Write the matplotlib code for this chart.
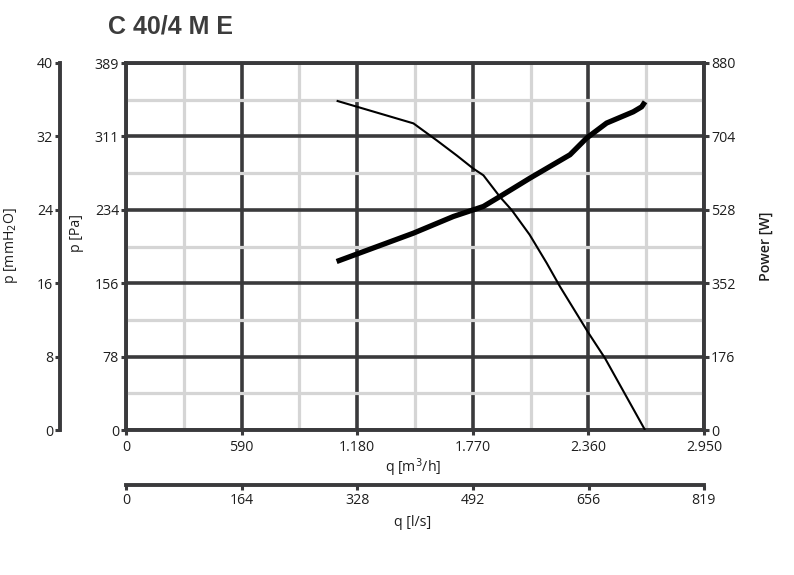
import matplotlib
matplotlib.use("Agg")
from matplotlib import pyplot as plt
from matplotlib.ticker import MultipleLocator
import numpy as np

# %% data
q_p = [1075, 1467, 1586, 1688, 1773, 1824, 1909, 1969, 2060, 2147, 2215, 2360, 2445, 2547, 2649]
p_pa = [349, 325, 307, 291, 277, 270, 247, 233, 207, 177, 152, 103, 76, 38, 0]

q_w = [1075, 1467, 1671, 1773, 1824, 1909, 2062, 2266, 2351, 2453, 2589, 2632, 2649]
power_w = [404, 472, 512, 528, 536, 560, 604, 660, 700, 736, 763, 775, 787]

q_ticks = [0, 590, 1180, 1770, 2360, 2950]
q_labels = ["0", "590", "1.180", "1.770", "2.360", "2.950"]
ls_ticks = [0, 164, 328, 492, 656, 819]
pa_ticks = [0, 78, 156, 234, 311, 389]
mm_ticks = [0, 8, 16, 24, 32, 40]
pw_ticks = [0, 176, 352, 528, 704, 880]

# %% style
plt.rcParams['font.family'] = ['Open Sans', 'DejaVu Sans']
dark = '#3a3a3c'
light = '#d5d5d5'
txt = '#1e1e1e'
fs = 10.2

W, H = 794, 575
fig = plt.figure(figsize=(W / 100, H / 100), dpi=100)
x0, x1, y0, y1 = 126, 704, 63, 430
ax = fig.add_axes([x0 / W, 1 - y1 / H, (x1 - x0) / W, (y1 - y0) / H])

ax.set_xlim(0, 2950)
ax.set_ylim(0, 389)
ax.set_xticks(q_ticks)
ax.set_xticklabels(q_labels)
ax.set_yticks(np.linspace(0, 389, 6))
ax.set_yticklabels([str(v) for v in pa_ticks])
ax.xaxis.set_minor_locator(MultipleLocator(295))
ax.set_yticks(np.linspace(0, 389, 11)[1::2], minor=True)
ax.grid(which='minor', color=light, lw=2.3, zorder=0)
ax.grid(which='major', color=dark, lw=2.6, zorder=1)
ax.tick_params(which='minor', length=0)
ax.tick_params(which='major', length=3.5, width=2.2, color=dark, labelsize=fs,
               labelcolor=txt, pad=1.5)
ax.tick_params(axis='x', pad=3.5)
for s in ax.spines.values():
    s.set_color(dark)
    s.set_linewidth(2.8)
ax.set_axisbelow(True)

ax.plot(q_p, p_pa, color='black', lw=1.5, zorder=5, solid_capstyle='butt')

# power axis (right)
ax_pw = ax.twinx()
ax_pw.set_ylim(0, 880)
ax_pw.set_yticks(pw_ticks)
ax_pw.tick_params(length=3.5, width=2.2, color=dark, labelsize=fs, labelcolor=txt, pad=1.5)
for s in ax_pw.spines.values():
    s.set_visible(False)
ax_pw.plot(q_w, power_w, color='black', lw=3.8, zorder=5, solid_capstyle='butt')

# mmH2O axis (far left)
ax_mm = ax.twinx()
ax_mm.set_ylim(0, 40)
ax_mm.set_yticks(mm_ticks)
for n, s in ax_mm.spines.items():
    s.set_visible(n == 'left')
ax_mm.spines['left'].set_position(('outward', 47.5))
ax_mm.spines['left'].set_color(dark)
ax_mm.spines['left'].set_linewidth(2.8)
ax_mm.yaxis.set_ticks_position('left')
ax_mm.tick_params(length=3.5, width=2.2, color=dark, labelsize=fs, labelcolor=txt, pad=1.5)

# l/s axis (second bottom)
ax_ls = ax.twiny()
ax_ls.set_xlim(0, 2950 / 3.6)
ax_ls.set_xticks(ls_ticks)
for n, s in ax_ls.spines.items():
    s.set_visible(n == 'bottom')
ax_ls.spines['bottom'].set_position(('outward', 39.6))
ax_ls.spines['bottom'].set_color(dark)
ax_ls.spines['bottom'].set_linewidth(2.8)
ax_ls.xaxis.set_ticks_position('bottom')
ax_ls.tick_params(length=3.5, width=2.2, color=dark, labelsize=fs, labelcolor=txt, pad=2)

# labels
def ft(x, y, s, **kw):
    fig.text(x / W, 1 - y / H, s, color=txt, fontsize=fs, **kw)

fig.text(108 / W, 1 - 26 / H, "C 40/4 M E", family='Liberation Sans', weight='bold',
         fontsize=18, color='#3c3c3c', va='center', ha='left')
ft(11, 246, "p [mmH$_2$O]", rotation=90, ha='center', va='center')
ft(76, 233, "p [Pa]", rotation=90, ha='center', va='center')
ft(766, 246, "Power [W]", rotation=90, ha='center', va='center', weight='semibold')
ft(413, 468, "q [m$^3$/h]", ha='center', va='center')
ft(413, 522, "q [l/s]", ha='center', va='center')

fig.savefig("out.png", dpi=100)
